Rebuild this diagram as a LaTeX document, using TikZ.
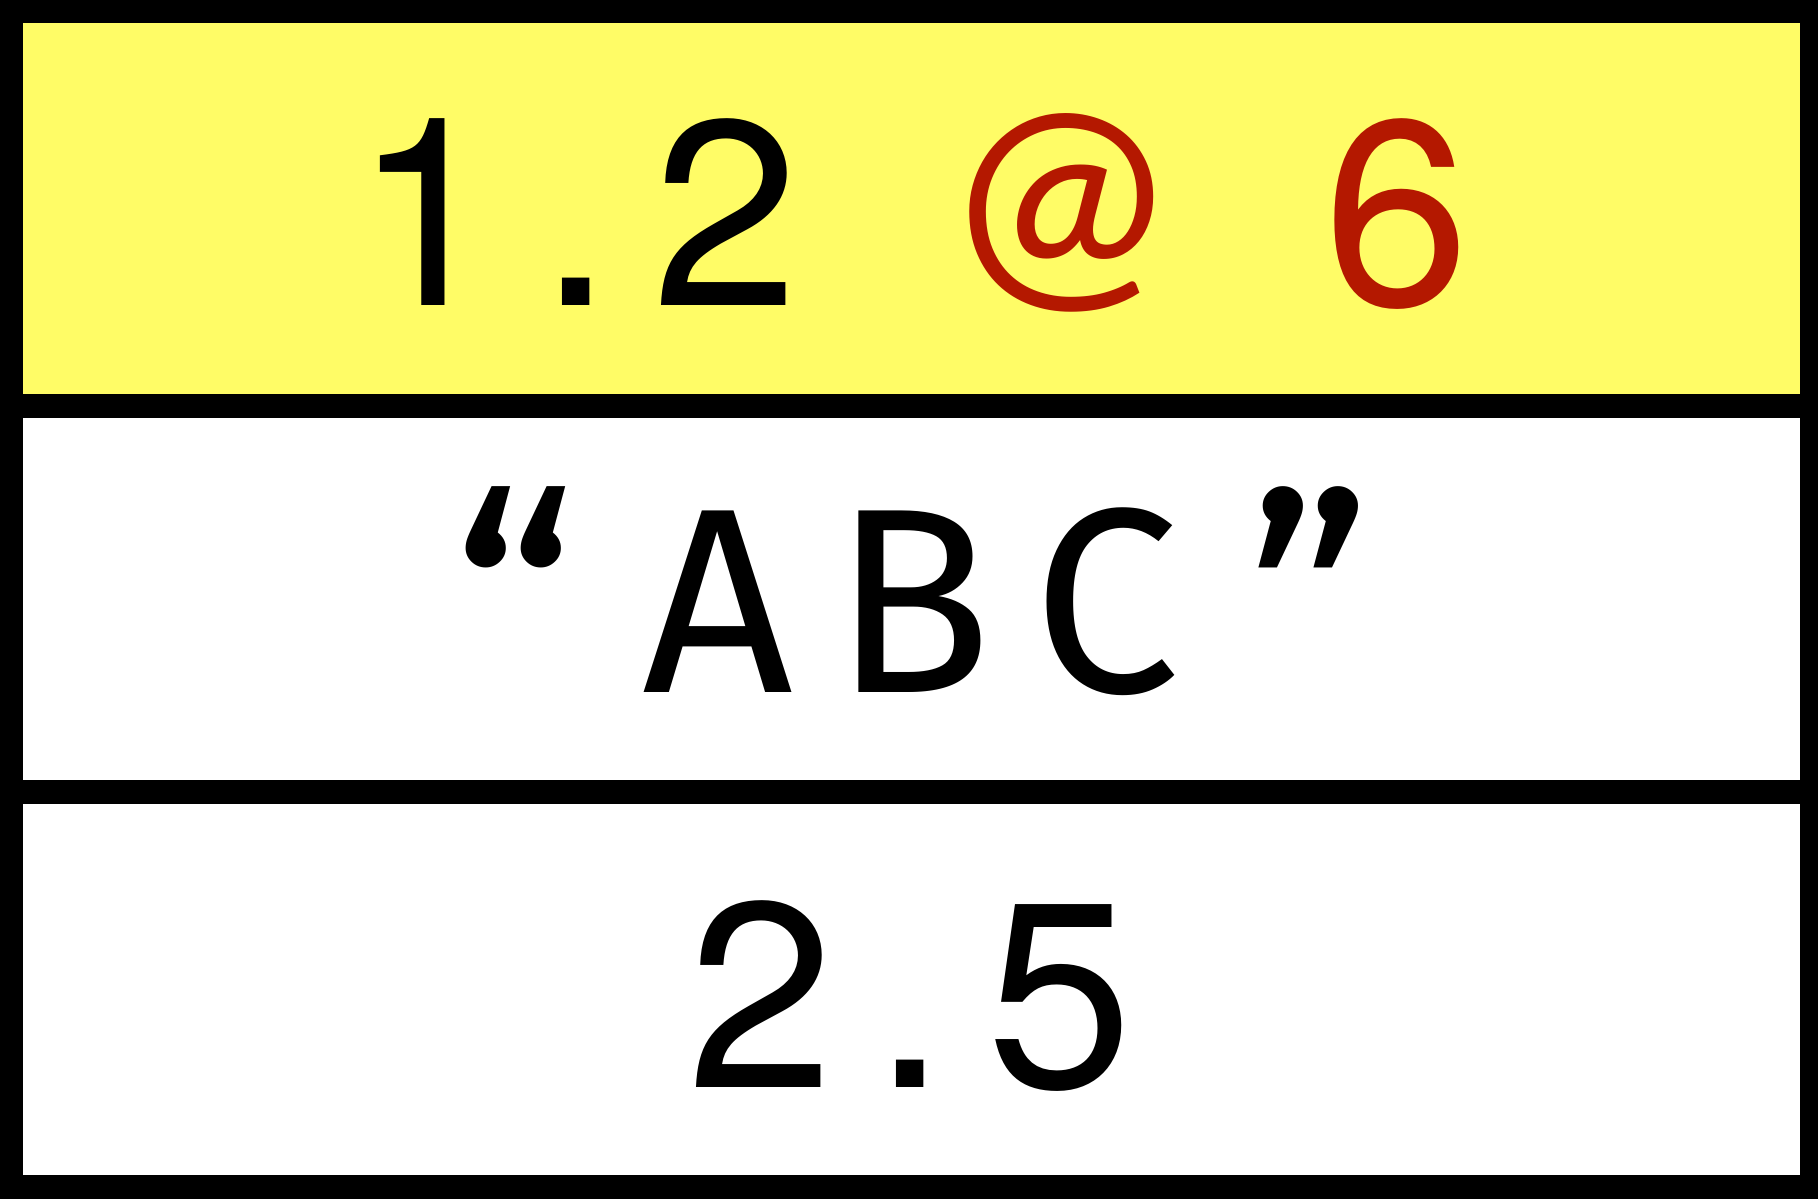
\documentclass[tikz,border=0pt]{standalone}
\usepackage{fontspec}
\setmainfont{TeX Gyre Heros}[LetterSpace=15,WordSpace=1.28]
\newfontfamily\quotefont{Fira Sans}[LetterSpace=15]
\newfontfamily\atfont{Carlito}
\definecolor{hl}{RGB}{255,252,102}
\definecolor{at}{RGB}{180,24,0}
\newcommand\bigq[1]{{\fontsize{88}{90}\selectfont\raisebox{-0.27cm}{#1}}}
\tikzset{
  cell/.style={draw, line width=0.24cm, minimum width=18.005cm, inner sep=0, outer sep=0},
  val/.style={anchor=base, inner sep=0, font=\fontsize{75}{80}\selectfont},
}
\begin{document}
\begin{tikzpicture}
  \useasboundingbox (0,0) rectangle (18.18,11.99);
  \node[cell, fill=hl, minimum height=3.95cm] (top) at (9.1175,9.90) {};
  \node[cell, minimum height=3.86cm] (mid) at (9.1175,5.995) {};
  \node[cell, minimum height=3.945cm] (bot) at (9.1175,2.0925) {};
  \node[val] (ver) at (9.12,8.93) {1.2 {\color{at}{\atfont\raisebox{0.23cm}{@}} 6}};
  \node[val] (name) at (9.12,5.06) {\quotefont \bigq{“}\kern0.64cm ABC\kern0.66cm\bigq{”}};
  \node[val] (num) at (9.10,1.115) {2.5};
\end{tikzpicture}
\end{document}
